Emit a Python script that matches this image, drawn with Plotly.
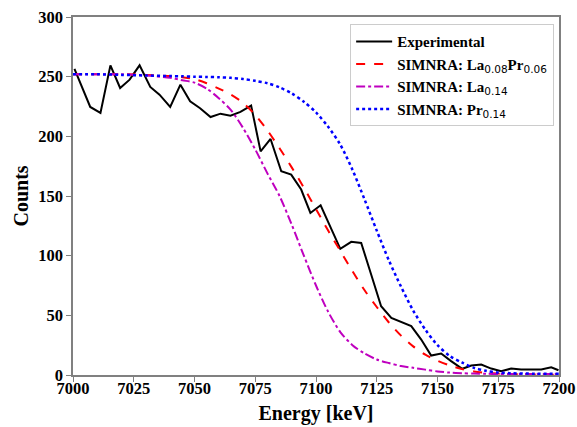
import plotly.graph_objects as go

# Experimental spectrum
exp_energy = [7000.6, 7003.8, 7007.1, 7011.3, 7015.4, 7019.4, 7023.3, 7027.4, 7031.8, 7035.6,
              7040.0, 7044.2, 7048.2, 7052.3, 7056.6, 7060.7, 7064.8, 7068.9, 7073.3, 7077.2,
              7081.3, 7085.7, 7089.8, 7093.9, 7097.7, 7101.9, 7106.0, 7110.0, 7114.5, 7118.6,
              7122.7, 7126.8, 7131.0, 7135.0, 7139.2, 7143.3, 7147.4, 7151.5, 7155.6, 7160.2,
              7163.9, 7168.0, 7172.1, 7176.2, 7180.3, 7184.4, 7188.6, 7192.7, 7196.8, 7199.8]
exp_counts = [256.5, 240.0, 224.6, 219.6, 259.5, 240.5, 247.5, 259.5, 241.4, 234.9,
              224.6, 243.3, 229.3, 223.5, 216.2, 219.0, 217.3, 220.5, 225.7, 187.4,
              197.8, 170.7, 167.9, 155.4, 135.8, 142.2, 124.0, 105.7, 111.6, 110.7,
              84.2, 57.6, 47.9, 44.2, 40.9, 29.7, 16.3, 18.0, 11.6, 5.2,
              8.0, 8.8, 5.4, 3.2, 5.4, 4.6, 4.6, 4.6, 6.5, 4.0]

# SIMNRA simulations
sim_energy = [7000, 7010, 7020, 7030, 7040, 7045, 7050, 7055, 7060, 7065, 7070, 7075, 7080,
              7085, 7090, 7095, 7100, 7105, 7110, 7115, 7120, 7125, 7130, 7135, 7140,
              7145, 7150, 7155, 7160, 7165, 7170, 7175, 7180, 7190, 7200]
sim_lapr = [252, 252, 252, 251.5, 250.5, 249.5, 248, 244.5, 240, 235, 228, 218, 205,
            190, 174, 157, 139, 121, 104, 87, 71, 57, 44, 33, 24,
            17, 12, 8, 5, 3, 1.8, 1.2, 0.8, 0.4, 0.3]
sim_la = [252, 252, 252, 251, 249, 247, 245, 240, 232, 222, 207, 189, 169,
          150, 126, 100, 75, 53, 36, 25, 18, 13, 10, 7.5, 6,
          4.5, 3, 2, 1.5, 1.2, 1, 0.9, 0.8, 0.8, 0.8]
sim_pr = [252, 252, 251.5, 251, 250.5, 250.3, 250, 249.8, 249.5, 249, 248, 246.5, 244.5,
          241, 236, 229, 220, 208, 193, 172, 147, 121, 96, 74, 54,
          38, 25, 16, 10.5, 6, 3.5, 2, 1.5, 1.1, 1]

x_ticks = [7000, 7025, 7050, 7075, 7100, 7125, 7150, 7175, 7200]
y_ticks = [0, 50, 100, 150, 200, 250, 300]

serif = "Times New Roman, Liberation Serif, serif"
SUB = '<sub><span style="font-family:DejaVu Sans;font-weight:normal">{}</span></sub>'

fig = go.Figure()
fig.add_trace(go.Scatter(x=exp_energy, y=exp_counts, mode="lines", name="<b>Experimental</b>",
                         line=dict(color="black", width=2)))
fig.add_trace(go.Scatter(x=sim_energy, y=sim_lapr, mode="lines",
                         name="<b>SIMNRA: La</b>" + SUB.format("0.08") + "<b>Pr</b>" + SUB.format("0.06"),
                         line=dict(color="#ff0000", width=2, dash="dash", shape="spline", smoothing=0.8)))
fig.add_trace(go.Scatter(x=sim_energy, y=sim_la, mode="lines",
                         name="<b>SIMNRA: La</b>" + SUB.format("0.14"),
                         line=dict(color="#bf00bf", width=2, dash="dashdot", shape="spline", smoothing=0.8)))
fig.add_trace(go.Scatter(x=sim_energy, y=sim_pr, mode="lines",
                         name="<b>SIMNRA: Pr</b>" + SUB.format("0.14"),
                         line=dict(color="#0000ff", width=2.5, dash="dot", shape="spline", smoothing=0.8)))

fig.update_layout(
    width=577, height=427,
    margin=dict(l=73, r=18, t=17, b=52, autoexpand=False),
    plot_bgcolor="white", paper_bgcolor="white",
    font=dict(family=serif, color="black"),
    showlegend=True,
    legend=dict(x=0.99, y=0.98, xanchor="right", yanchor="top",
                bgcolor="white", bordercolor="#cccccc", borderwidth=1,
                font=dict(family=serif, size=15, color="black"),
                tracegroupgap=0, itemwidth=36),
)
fig.update_xaxes(
    range=[7000, 7200], tickvals=x_ticks, ticktext=["<b>%d</b>" % v for v in x_ticks],
    showgrid=False, zeroline=False, showline=True, linecolor="#808080", linewidth=1.5,
    mirror=True, ticks="outside", ticklen=5, tickcolor="#808080", ticklabelstandoff=-8,
    ticklabeloverflow="allow",
    tickfont=dict(family=serif, size=16.5, color="black"),
    title=dict(text="<b>Energy [keV]</b>", font=dict(family=serif, size=20, color="black"),
               standoff=9),
)
fig.update_yaxes(
    range=[0, 300], tickvals=y_ticks, ticktext=["<b>%d</b>" % v for v in y_ticks],
    showgrid=False, zeroline=False, showline=True, linecolor="#808080", linewidth=1.5,
    mirror=True, ticks="outside", ticklen=5, tickcolor="#808080", ticklabeloverflow="allow",
    tickfont=dict(family=serif, size=16.5, color="black"),
    title=dict(text="<b>Counts</b>", font=dict(family=serif, size=20, color="black"),
               standoff=4),
)

# remove the default page margin so the figure sits at the window's top-left corner
fig.write_html("out.html", config={"displayModeBar": False},
               post_script="document.body.style.margin='0';")
